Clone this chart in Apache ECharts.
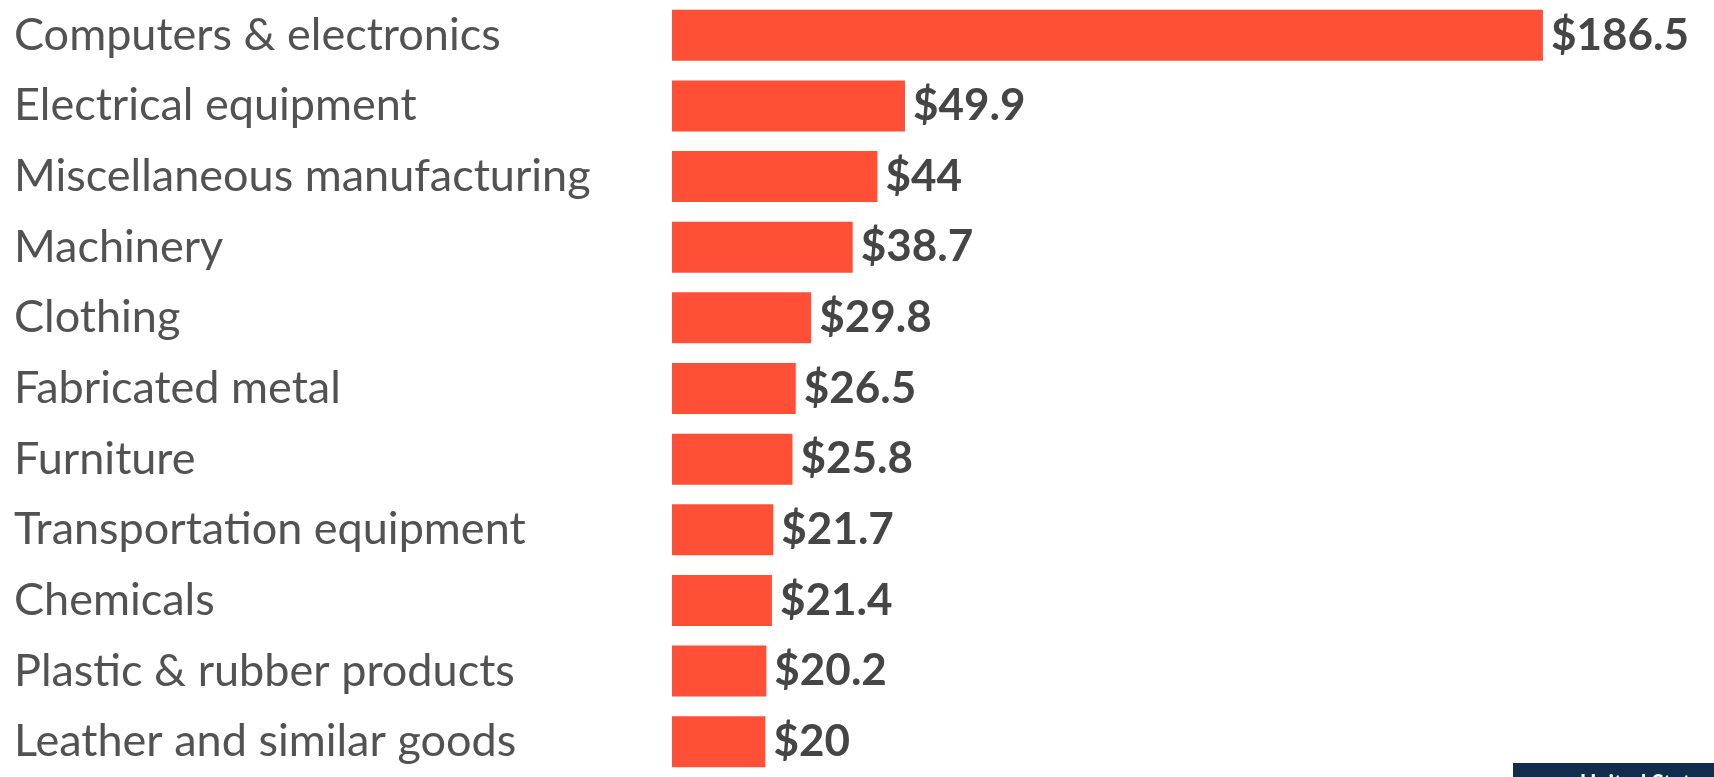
<!DOCTYPE html>
<html>
<head>
<meta charset="utf-8">
<script src="https://cdn.jsdelivr.net/npm/echarts@6/dist/echarts.min.js"></script>
<style>
  html, body { margin: 0; padding: 0; background: #ffffff; }
  #chart { width: 1714px; height: 777px; }
</style>
</head>
<body>
<div id="chart"></div>
<script>
// Industry categories, top to bottom
const categories = [
  'Computers & electronics',
  'Electrical equipment',
  'Miscellaneous manufacturing',
  'Machinery',
  'Clothing',
  'Fabricated metal',
  'Furniture',
  'Transportation equipment',
  'Chemicals',
  'Plastic & rubber products',
  'Leather and similar goods'
];

// Values in billions of dollars
const values = [186.5, 49.9, 44, 38.7, 29.8, 26.5, 25.8, 21.7, 21.4, 20.2, 20];

const chart = echarts.init(document.getElementById('chart'), null, { renderer: 'canvas' });

chart.setOption({
  animation: false,
  backgroundColor: '#ffffff',
  grid: {
    left: 672,
    top: -3.4,
    width: 934,
    height: 790,
    containLabel: false
  },
  xAxis: {
    type: 'value',
    min: 0,
    max: 200,
    show: false
  },
  yAxis: {
    type: 'category',
    data: categories,
    inverse: true,
    axisLine: { show: false },
    axisTick: { show: false },
    splitLine: { show: false },
    axisLabel: {
      align: 'left',
      margin: 658,
      color: '#525252',
      fontFamily: 'Lato',
      fontSize: 45
    }
  },
  series: [{
    type: 'bar',
    data: values,
    barWidth: 51,
    itemStyle: { color: '#ff5037' },
    label: {
      show: true,
      position: 'right',
      distance: 8,
      color: '#454545',
      fontFamily: 'Lato',
      fontWeight: 'bold',
      fontSize: 44,
      formatter: p => '$' + p.value
    }
  }],
  graphic: [{
    type: 'group',
    left: 1513,
    top: 763,
    children: [{
      type: 'rect',
      shape: { x: 0, y: 0, width: 201, height: 14 },
      style: { fill: '#122c4e' }
    }, {
      type: 'text',
      x: 67,
      y: 10,
      style: {
        text: 'United States',
        fill: '#ffffff',
        font: 'bold 22px Lato'
      }
    }]
  }]
});
</script>
</body>
</html>
